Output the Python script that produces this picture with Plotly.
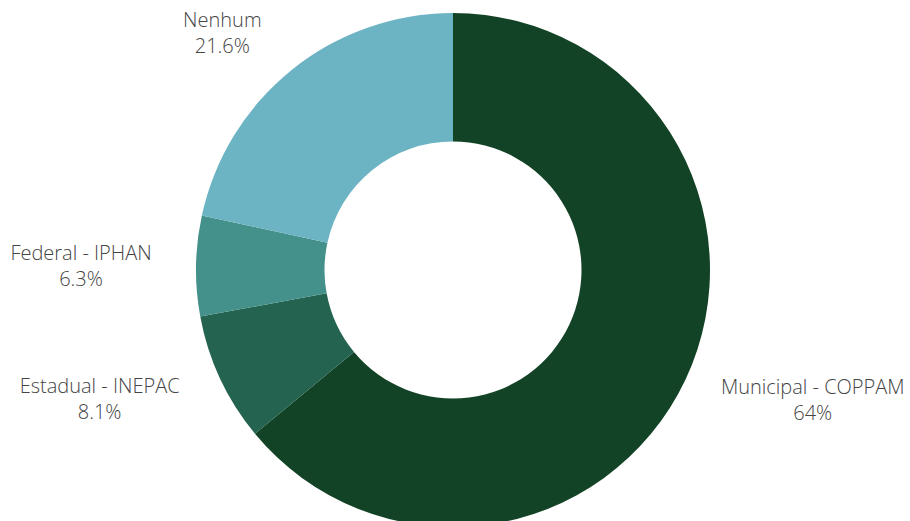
import plotly.graph_objects as go

labels = ["Municipal - COPPAM", "Estadual - INEPAC", "Federal - IPHAN", "Nenhum"]
values = [64.0, 8.1, 6.3, 21.6]
text_pct = ["64%", "8.1%", "6.3%", "21.6%"]
colors = ["#134326", "#236350", "#44908A", "#6CB4C4"]

def sp(n):
    return "\u00a0" * n

templates = [
    "\u00a0<br>" + sp(3) + "%{label}<br>" + sp(3) + "%{text}",
    "\u00a0<br>%{label}" + sp(4) + "<br>%{text}" + sp(4),
    "%{label}" + sp(6) + "<br>%{text}" + sp(6),
    "%{label}" + sp(2) + "<br>%{text}" + sp(2) + "<br>\u00a0",
]

fig = go.Figure(go.Pie(
    labels=labels,
    values=values,
    text=text_pct,
    hole=0.5,
    sort=False,
    direction="clockwise",
    rotation=0,
    marker=dict(colors=colors, line=dict(width=0)),
    texttemplate=templates,
    textposition="outside",
    outsidetextfont=dict(family="Open Sans", size=20, color="#444444", weight=300),
    showlegend=False,
    automargin=False,
    hoverinfo="label+percent",
))

fig.update_layout(
    width=910, height=540,
    margin=dict(l=0, r=4, t=13, b=13),
    paper_bgcolor="white",
    plot_bgcolor="white",
)

fig.write_html("out.html", post_script="document.body.style.overflow='hidden';document.documentElement.style.overflow='hidden';")
